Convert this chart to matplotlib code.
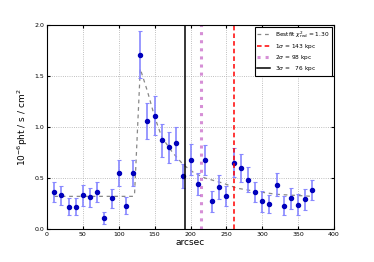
import matplotlib
matplotlib.use("Agg")
import matplotlib.pyplot as plt

# surface brightness profile
r = [10, 20, 30, 40, 50, 60, 70, 80, 90, 100, 110, 120, 130, 140, 150, 160, 170, 180, 190,
     200, 210, 220, 230, 240, 250, 260, 270, 280, 290, 300, 310, 320, 330, 340, 350, 360, 370]
sb = [0.36, 0.33, 0.22, 0.22, 0.33, 0.31, 0.36, 0.11, 0.30, 0.55, 0.23, 0.55, 1.71, 1.06, 1.11,
      0.87, 0.80, 0.84, 0.52, 0.68, 0.44, 0.675, 0.27, 0.41, 0.325, 0.65, 0.60, 0.485, 0.36,
      0.27, 0.245, 0.436, 0.23, 0.30, 0.24, 0.29, 0.38]
err = [0.10, 0.095, 0.08, 0.08, 0.10, 0.09, 0.10, 0.06, 0.09, 0.13, 0.08, 0.13, 0.23, 0.18, 0.19,
       0.16, 0.15, 0.16, 0.12, 0.15, 0.11, 0.15, 0.10, 0.12, 0.10, 0.14, 0.135, 0.12, 0.10,
       0.10, 0.09, 0.11, 0.09, 0.10, 0.10, 0.10, 0.10]

# best fit model
r_fit = [10, 50, 100, 120, 122, 130, 140, 150, 160, 175, 190, 205, 220, 245, 265, 290, 320, 370]
fit = [0.32, 0.32, 0.32, 0.32, 0.34, 1.57, 1.35, 1.10, 0.90, 0.75, 0.63, 0.55, 0.50, 0.45,
       0.40, 0.37, 0.34, 0.32]

r1, r2, r3 = 260, 215, 192

plt.rcParams['font.size'] = 5
fig = plt.figure(figsize=(3.74, 2.62), dpi=100)
ax = fig.add_axes([47 / 374, 33 / 262, 287 / 374, 204 / 262])

ax.plot(r_fit, fit, '--', color='#888888', lw=0.9, dashes=(3, 3),
        label=r'Bestfit $\chi^2_{\rm red}$ = 1.30')
ax.errorbar(r, sb, yerr=err, fmt='none', ecolor='#8888ff', elinewidth=1.2, capsize=1.5, capthick=0.8)
ax.plot(r, sb, 'o', color='#0000bb', ms=2.9, mec='#0000bb')
ax.axvline(r1, color='red', ls='--', lw=1.1, dashes=(3, 2), label=r'1$\sigma$ = 143 kpc')
ax.axvline(r2, color='#bb44bb', ls=':', lw=2.2, alpha=0.6, label=r'2$\sigma$ = 98 kpc')
ax.axvline(r3, color='black', ls='-', lw=1.1, label=r'3$\sigma$ =   76 kpc')

ax.set_xlim(0, 400)
ax.set_ylim(0, 2.0)
ax.set_xticks(range(0, 401, 50))
ax.set_yticks([0.0, 0.5, 1.0, 1.5, 2.0])
ax.grid(True, ls=':', color='#aaaaaa', lw=0.6)
ax.tick_params(direction='in', length=2, top=True, right=True, labelsize=4.5, pad=2)
ax.set_xlabel('arcsec', fontsize=6.5, labelpad=1)
ax.set_ylabel(r'$10^{-6}$pht / s / cm$^2$', fontsize=6.5, labelpad=3)
leg = ax.legend(loc='upper right', fontsize=4.2, fancybox=False, framealpha=1, handlelength=2.2,
                labelspacing=0.35, borderaxespad=0.35, borderpad=0.4)
leg.get_frame().set_edgecolor('black')
leg.get_frame().set_linewidth(0.8)

fig.savefig('out.png', dpi=100)
